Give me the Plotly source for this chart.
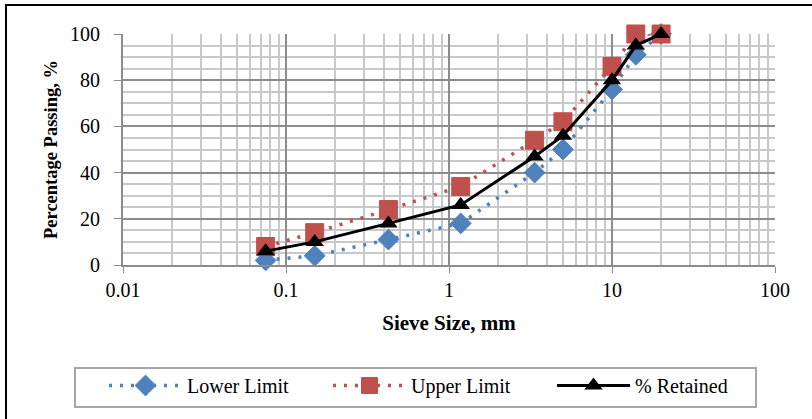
import plotly.graph_objects as go

sieve_mm = [0.075, 0.15, 0.425, 1.18, 3.35, 5, 10, 14, 20]
lower_limit = [2, 4, 11, 18, 40, 50, 76, 91, 100]
upper_limit = [8, 14, 24, 34, 54, 62, 86, 100, 100]
retained = [6, 10, 18, 26, 47, 56, 80, 95, 100]

BLUE = "#4F81BD"
RED = "#C0504D"
FONT = "Liberation Serif"

# plot-area geometry in pixels (for paper-coordinate conversion of decorations)
L, R, T, B = 123, 775, 34, 265
PW, PH = R - L, B - T
def px(x):
    return (x - L) / PW
def py(y):
    return (B - y) / PH

fig = go.Figure()
fig.add_trace(go.Scatter(
    x=sieve_mm, y=lower_limit, name="Lower Limit", mode="lines+markers",
    line=dict(color=BLUE, width=3.5, dash="3px,8px"), cliponaxis=False,
    marker=dict(symbol="diamond", size=16, color=BLUE,
                line=dict(color=BLUE, width=1)),
))
fig.add_trace(go.Scatter(
    x=sieve_mm, y=upper_limit, name="Upper Limit", mode="lines+markers",
    line=dict(color=RED, width=3.5, dash="3px,8px"), cliponaxis=False,
    marker=dict(symbol="square", size=18, color=RED,
                line=dict(color=RED, width=1)),
))
fig.add_trace(go.Scatter(
    x=sieve_mm, y=retained, name="% Retained", mode="lines+markers",
    line=dict(color="black", width=3), cliponaxis=False,
    marker=dict(symbol="triangle-up", size=16, color="black"),
))

fig.update_layout(
    width=812, height=419,
    margin=dict(l=L, r=812 - R, t=T, b=419 - B, autoexpand=False),
    paper_bgcolor="white", plot_bgcolor="white",
    font=dict(family=FONT, size=20, color="black"),
    showlegend=True,
    legend=dict(
        orientation="h", x=px(104), xanchor="left", y=py(366), yanchor="top",
        borderwidth=0, bgcolor="rgba(0,0,0,0)",
        font=dict(family=FONT, size=20), itemwidth=73, entrywidth=136,
        traceorder="normal",
    ),
    xaxis=dict(
        type="log", range=[-2, 2], automargin=False,
        tickvals=[0.01, 0.1, 1, 10, 100], ticktext=["0.01", "0.1", "1", "10", "100"],
        showgrid=True, gridcolor="#8C8C8C", gridwidth=2,
        minor=dict(dtick="D1", showgrid=True, gridcolor="#C8C8C8", gridwidth=2),
        showline=True, linecolor="#8C8C8C", linewidth=2,
        ticks="outside", ticklen=6, tickcolor="#8C8C8C", tickwidth=1,
        zeroline=False,
        title=dict(text="<b>Sieve Size, mm</b>", font=dict(size=21), standoff=15),
    ),
    yaxis=dict(
        range=[0, 100], dtick=20, automargin=False,
        showgrid=True, gridcolor="#8C8C8C", gridwidth=2,
        minor=dict(dtick=5, showgrid=True, gridcolor="#C8C8C8", gridwidth=2),
        showline=True, linecolor="#8C8C8C", linewidth=2,
        ticks="outside", ticklen=7, tickcolor="#8C8C8C", tickwidth=1,
        ticklabelstandoff=10,
        zeroline=False,
        title=dict(text="<b>Percentage Passing, %</b>", font=dict(size=18.5), standoff=8),
    ),
    shapes=[
        dict(type="rect", xref="paper", yref="paper",
             x0=px(6), x1=px(830), y0=py(430), y1=py(5),
             line=dict(color="black", width=2), layer="below"),
        dict(type="rect", xref="paper", yref="paper",
             x0=px(75), x1=px(756), y0=py(407), y1=py(368),
             line=dict(color="#A6A6A6", width=2), layer="below"),
    ],
)

fig.write_html("out.html", config={"displayModeBar": False},
               post_script="document.body.style.margin='0';")
